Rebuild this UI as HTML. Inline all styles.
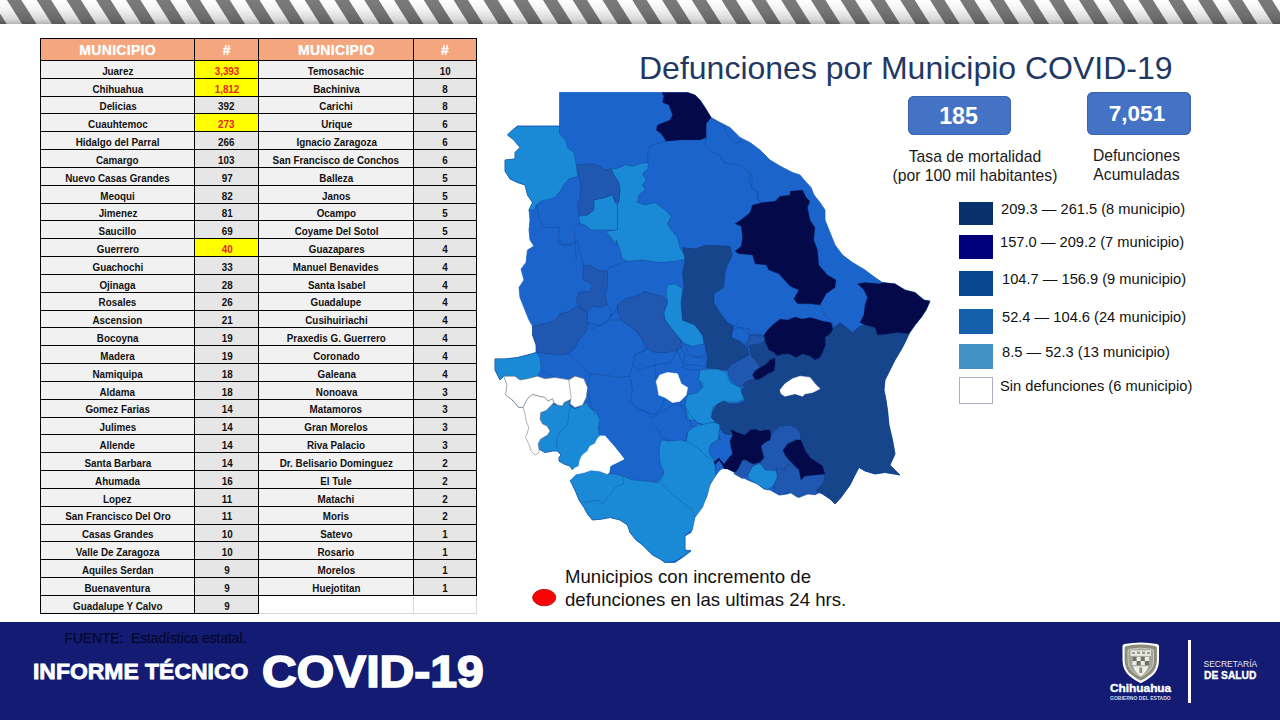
<!DOCTYPE html>
<html lang="es"><head><meta charset="utf-8"><title>Defunciones por Municipio COVID-19</title>
<style>
html,body{margin:0;padding:0;}
body{width:1280px;height:720px;overflow:hidden;background:#fff;position:relative;font-family:"Liberation Sans",sans-serif;}
.abs{position:absolute;}
#stripes{left:0;top:0;width:1280px;height:24px;}
table{position:absolute;left:40px;top:38px;border-collapse:collapse;table-layout:fixed;width:436px;}
td,th{border:1px solid #000;padding:0;text-align:center;overflow:hidden;white-space:nowrap;}
th{height:21px;background:#f4a77e;color:#fff;font:bold 14px "Liberation Sans",sans-serif;letter-spacing:0.3px;text-shadow:0 0 1px rgba(255,255,255,.6);}
td{height:16.835px;background:#e6e6e6;color:#111;font:bold 11.2px "Liberation Sans",sans-serif;line-height:16px;}
td.n{background:#f1f1f1;}
td span{display:inline-block;transform:scaleX(.88);transform-origin:50% 50%;position:relative;top:1.3px;}
td.y{background:#ffff00;color:#e8251a;}
td.e{background:#fff;border-color:#d9d9d9;border-left-color:#000;border-top-color:#000;}
td.e2{border-left-color:#d9d9d9;}
#title{left:639px;top:50px;font-size:32px;color:#1f3864;white-space:nowrap;line-height:37px;}
.box{background:#4472c4;box-shadow:inset 0 0 0 1px #3c63ad;border-radius:6px;color:#fff;font-weight:bold;text-align:center;}
.lbl{font-size:15.7px;color:#1a1a1a;text-align:center;white-space:nowrap;line-height:18.5px;}
.lg{font-size:14.67px;color:#111;white-space:nowrap;line-height:17px;left:1001px;}
.sq{left:959px;width:34px;}
#footer{left:0;top:622px;width:1280px;height:98px;background:#131c72;}
</style></head><body>
<svg id="stripes" class="abs" viewBox="0 0 1280 24" preserveAspectRatio="none">
<defs><linearGradient id="sg" x1="0" y1="0" x2="0" y2="1"><stop offset="0" stop-color="#000" stop-opacity="0"/><stop offset="0.4" stop-color="#000" stop-opacity="0.05"/><stop offset="0.8" stop-color="#000" stop-opacity="0.15"/><stop offset="1" stop-color="#000" stop-opacity="0.3"/></linearGradient></defs>
<rect width="1280" height="24" fill="#fff"/>
<g fill="#7b7b7b"><polygon points="-52.7,0 -38.3,0 -23.1,24 -37.5,24"/><polygon points="-22.9,0 -8.5,0 6.7,24 -7.7,24"/><polygon points="6.9,0 21.3,0 36.5,24 22.1,24"/><polygon points="36.7,0 51.1,0 66.3,24 51.9,24"/><polygon points="66.5,0 80.9,0 96.1,24 81.7,24"/><polygon points="96.2,0 110.6,0 125.8,24 111.4,24"/><polygon points="126.0,0 140.4,0 155.6,24 141.2,24"/><polygon points="155.8,0 170.2,0 185.4,24 171.0,24"/><polygon points="185.6,0 200.0,0 215.2,24 200.8,24"/><polygon points="215.4,0 229.8,0 245.0,24 230.6,24"/><polygon points="245.1,0 259.5,0 274.7,24 260.3,24"/><polygon points="274.9,0 289.3,0 304.5,24 290.1,24"/><polygon points="304.7,0 319.1,0 334.3,24 319.9,24"/><polygon points="334.5,0 348.9,0 364.1,24 349.7,24"/><polygon points="364.3,0 378.7,0 393.9,24 379.5,24"/><polygon points="394.0,0 408.4,0 423.6,24 409.2,24"/><polygon points="423.8,0 438.2,0 453.4,24 439.0,24"/><polygon points="453.6,0 468.0,0 483.2,24 468.8,24"/><polygon points="483.4,0 497.8,0 513.0,24 498.6,24"/><polygon points="513.2,0 527.6,0 542.8,24 528.4,24"/><polygon points="542.9,0 557.3,0 572.5,24 558.1,24"/><polygon points="572.7,0 587.1,0 602.3,24 587.9,24"/><polygon points="602.5,0 616.9,0 632.1,24 617.7,24"/><polygon points="632.3,0 646.7,0 661.9,24 647.5,24"/><polygon points="662.1,0 676.5,0 691.7,24 677.3,24"/><polygon points="691.8,0 706.2,0 721.4,24 707.0,24"/><polygon points="721.6,0 736.0,0 751.2,24 736.8,24"/><polygon points="751.4,0 765.8,0 781.0,24 766.6,24"/><polygon points="781.2,0 795.6,0 810.8,24 796.4,24"/><polygon points="811.0,0 825.4,0 840.6,24 826.2,24"/><polygon points="840.7,0 855.1,0 870.3,24 855.9,24"/><polygon points="870.5,0 884.9,0 900.1,24 885.7,24"/><polygon points="900.3,0 914.7,0 929.9,24 915.5,24"/><polygon points="930.1,0 944.5,0 959.7,24 945.3,24"/><polygon points="959.9,0 974.3,0 989.5,24 975.1,24"/><polygon points="989.6,0 1004.0,0 1019.2,24 1004.8,24"/><polygon points="1019.4,0 1033.8,0 1049.0,24 1034.6,24"/><polygon points="1049.2,0 1063.6,0 1078.8,24 1064.4,24"/><polygon points="1079.0,0 1093.4,0 1108.6,24 1094.2,24"/><polygon points="1108.8,0 1123.2,0 1138.4,24 1124.0,24"/><polygon points="1138.5,0 1152.9,0 1168.1,24 1153.7,24"/><polygon points="1168.3,0 1182.7,0 1197.9,24 1183.5,24"/><polygon points="1198.1,0 1212.5,0 1227.7,24 1213.3,24"/><polygon points="1227.9,0 1242.3,0 1257.5,24 1243.1,24"/><polygon points="1257.7,0 1272.1,0 1287.3,24 1272.9,24"/><polygon points="1287.4,0 1301.8,0 1317.0,24 1302.6,24"/></g>
<rect width="1280" height="24" fill="url(#sg)"/>
</svg>

<table>
<colgroup><col style="width:154.3px"><col style="width:64px"><col style="width:155px"><col style="width:62.7px"></colgroup>
<tr><th>MUNICIPIO</th><th>#</th><th>MUNICIPIO</th><th>#</th></tr>
<tr><td class="n"><span>Juarez</span></td><td class="y"><span>3,393</span></td><td class="n"><span>Temosachic</span></td><td><span>10</span></td></tr>
<tr><td class="n"><span>Chihuahua</span></td><td class="y"><span>1,812</span></td><td class="n"><span>Bachiniva</span></td><td><span>8</span></td></tr>
<tr><td class="n"><span>Delicias</span></td><td><span>392</span></td><td class="n"><span>Carichi</span></td><td><span>8</span></td></tr>
<tr><td class="n"><span>Cuauhtemoc</span></td><td class="y"><span>273</span></td><td class="n"><span>Urique</span></td><td><span>6</span></td></tr>
<tr><td class="n"><span>Hidalgo del Parral</span></td><td><span>266</span></td><td class="n"><span>Ignacio Zaragoza</span></td><td><span>6</span></td></tr>
<tr><td class="n"><span>Camargo</span></td><td><span>103</span></td><td class="n"><span>San Francisco de Conchos</span></td><td><span>6</span></td></tr>
<tr><td class="n"><span>Nuevo Casas Grandes</span></td><td><span>97</span></td><td class="n"><span>Balleza</span></td><td><span>5</span></td></tr>
<tr><td class="n"><span>Meoqui</span></td><td><span>82</span></td><td class="n"><span>Janos</span></td><td><span>5</span></td></tr>
<tr><td class="n"><span>Jimenez</span></td><td><span>81</span></td><td class="n"><span>Ocampo</span></td><td><span>5</span></td></tr>
<tr><td class="n"><span>Saucillo</span></td><td><span>69</span></td><td class="n"><span>Coyame Del Sotol</span></td><td><span>5</span></td></tr>
<tr><td class="n"><span>Guerrero</span></td><td class="y"><span>40</span></td><td class="n"><span>Guazapares</span></td><td><span>4</span></td></tr>
<tr><td class="n"><span>Guachochi</span></td><td><span>33</span></td><td class="n"><span>Manuel Benavides</span></td><td><span>4</span></td></tr>
<tr><td class="n"><span>Ojinaga</span></td><td><span>28</span></td><td class="n"><span>Santa Isabel</span></td><td><span>4</span></td></tr>
<tr><td class="n"><span>Rosales</span></td><td><span>26</span></td><td class="n"><span>Guadalupe</span></td><td><span>4</span></td></tr>
<tr><td class="n"><span>Ascension</span></td><td><span>21</span></td><td class="n"><span>Cusihuiriachi</span></td><td><span>4</span></td></tr>
<tr><td class="n"><span>Bocoyna</span></td><td><span>19</span></td><td class="n"><span>Praxedis G. Guerrero</span></td><td><span>4</span></td></tr>
<tr><td class="n"><span>Madera</span></td><td><span>19</span></td><td class="n"><span>Coronado</span></td><td><span>4</span></td></tr>
<tr><td class="n"><span>Namiquipa</span></td><td><span>18</span></td><td class="n"><span>Galeana</span></td><td><span>4</span></td></tr>
<tr><td class="n"><span>Aldama</span></td><td><span>18</span></td><td class="n"><span>Nonoava</span></td><td><span>3</span></td></tr>
<tr><td class="n"><span>Gomez Farias</span></td><td><span>14</span></td><td class="n"><span>Matamoros</span></td><td><span>3</span></td></tr>
<tr><td class="n"><span>Julimes</span></td><td><span>14</span></td><td class="n"><span>Gran Morelos</span></td><td><span>3</span></td></tr>
<tr><td class="n"><span>Allende</span></td><td><span>14</span></td><td class="n"><span>Riva Palacio</span></td><td><span>3</span></td></tr>
<tr><td class="n"><span>Santa Barbara</span></td><td><span>14</span></td><td class="n"><span>Dr. Belisario Dominguez</span></td><td><span>2</span></td></tr>
<tr><td class="n"><span>Ahumada</span></td><td><span>16</span></td><td class="n"><span>El Tule</span></td><td><span>2</span></td></tr>
<tr><td class="n"><span>Lopez</span></td><td><span>11</span></td><td class="n"><span>Matachi</span></td><td><span>2</span></td></tr>
<tr><td class="n"><span>San Francisco Del Oro</span></td><td><span>11</span></td><td class="n"><span>Moris</span></td><td><span>2</span></td></tr>
<tr><td class="n"><span>Casas Grandes</span></td><td><span>10</span></td><td class="n"><span>Satevo</span></td><td><span>1</span></td></tr>
<tr><td class="n"><span>Valle De Zaragoza</span></td><td><span>10</span></td><td class="n"><span>Rosario</span></td><td><span>1</span></td></tr>
<tr><td class="n"><span>Aquiles Serdan</span></td><td><span>9</span></td><td class="n"><span>Morelos</span></td><td><span>1</span></td></tr>
<tr><td class="n"><span>Buenaventura</span></td><td><span>9</span></td><td class="n"><span>Huejotitan</span></td><td><span>1</span></td></tr>
<tr><td class="n"><span>Guadalupe Y Calvo</span></td><td><span>9</span></td><td class="e"></td><td class="e e2"></td></tr>
</table>

<div id="title" class="abs">Defunciones por Municipio COVID-19</div>

<div class="abs box" style="left:908px;top:96px;width:103px;height:38.5px;font-size:23.2px;line-height:40.6px;text-indent:-2px;">185</div>
<div class="abs box" style="left:1087px;top:92px;width:104px;height:42.5px;font-size:22.5px;line-height:44.6px;text-indent:-4px;">7,051</div>
<div class="abs lbl" style="left:875px;top:148.2px;width:200px;">Tasa de mortalidad<br>(por 100 mil habitantes)</div>
<div class="abs lbl" style="left:1036.5px;top:147.2px;width:200px;">Defunciones<br>Acumuladas</div>

<div class="abs sq" style="top:202px;height:22.5px;background:#08306b;"></div>
<div class="abs sq" style="top:235px;height:23.5px;background:#00007b;"></div>
<div class="abs sq" style="top:271px;height:24.5px;background:#08468f;"></div>
<div class="abs sq" style="top:309px;height:24.7px;background:#1460ad;"></div>
<div class="abs sq" style="top:344.3px;height:24.5px;background:#4292c6;"></div>
<div class="abs sq" style="top:377px;height:25px;width:32px;background:#fff;border:1px solid #a9afc0;"></div>
<div class="abs lg" style="top:201px;">209.3 — 261.5 (8 municipio)</div>
<div class="abs lg" style="top:234px;left:1000px;">157.0 — 209.2 (7 municipio)</div>
<div class="abs lg" style="top:271px;left:1002px;">104.7 — 156.9 (9 municipio)</div>
<div class="abs lg" style="top:309px;left:1002px;">52.4 — 104.6 (24 municipio)</div>
<div class="abs lg" style="top:344px;left:1002px;">8.5 — 52.3 (13 municipio)</div>
<div class="abs lg" style="top:378px;left:1000px;">Sin defunciones (6 municipio)</div>

<svg class="abs" style="left:0;top:0;width:1280px;height:720px;pointer-events:none" viewBox="0 0 1280 720"><polygon points="559.5,92.5 687.5,92.5 695.0,95.0 700.0,100.0 705.0,107.5 711.0,117.5 720.0,122.5 730.0,127.5 740.0,137.5 750.0,142.5 760.0,150.0 770.0,160.0 780.0,166.0 792.5,172.5 800.0,175.0 805.0,181.0 811.0,187.5 814.0,195.0 820.0,202.5 825.0,210.0 825.0,220.0 830.0,232.5 835.0,245.0 842.5,255.0 852.5,262.5 865.0,270.0 875.0,277.5 882.5,282.5 895.0,284.0 905.0,290.0 915.0,292.5 924.0,300.0 930.0,301.0 926.0,310.0 921.0,317.5 915.0,325.0 909.0,334.0 905.0,342.5 901.0,350.0 895.0,360.0 890.0,370.0 885.0,380.0 884.0,390.0 886.0,400.0 887.5,410.0 889.0,425.0 892.5,440.0 895.0,454.0 890.0,465.0 900.0,475.0 885.0,472.5 875.0,474.0 865.0,471.0 859.0,467.5 855.0,475.0 850.0,485.0 841.0,497.5 835.0,504.0 830.0,499.0 822.5,494.0 816.0,491.0 807.5,494.0 799.0,497.5 795.0,491.0 787.5,494.0 779.0,495.0 770.0,490.0 764.0,489.0 757.5,484.0 750.0,481.0 742.5,477.5 735.0,472.5 725.0,467.5 720.0,470.0 714.0,477.5 709.0,486.0 706.0,497.5 701.0,507.5 695.0,515.0 692.5,525.0 691.0,532.5 685.0,536.0 685.0,550.0 691.0,551.0 682.5,557.5 675.0,562.5 665.0,562.5 660.0,559.0 652.5,555.0 647.5,550.0 642.5,545.0 636.0,540.0 630.0,532.5 627.5,525.0 620.0,520.0 610.0,517.5 602.5,519.0 592.5,520.0 587.5,514.0 584.0,507.5 579.0,500.0 576.0,492.5 572.5,485.0 570.0,480.0 572.5,470.0 570.0,466.0 564.0,464.0 559.0,461.0 559.0,457.5 561.0,455.0 557.5,451.0 552.5,451.0 545.0,452.5 539.0,449.0 538.0,444.0 540.6,439.0 547.5,435.0 550.0,431.0 547.0,426.0 542.5,424.0 540.0,419.0 540.6,412.5 546.0,410.6 552.5,404.0 553.8,402.5 552.5,398.8 548.0,401.2 545.0,397.5 538.8,396.2 532.5,394.4 527.5,398.8 523.0,407.5 518.8,407.5 512.5,400.0 506.0,395.0 507.5,385.0 504.0,376.0 500.0,380.0 495.0,370.0 495.0,359.0 505.0,359.0 517.5,357.5 527.5,355.0 536.0,352.5 536.0,345.0 532.5,335.0 532.5,326.0 529.0,320.0 524.0,307.5 520.0,297.5 519.0,287.5 524.0,280.0 521.0,269.0 526.0,262.5 527.5,250.0 534.0,246.0 530.0,240.0 529.0,230.0 530.0,220.0 529.0,210.0 532.5,202.5 527.5,195.0 525.0,185.0 517.5,182.5 510.0,179.0 505.0,171.0 505.0,160.0 515.0,159.0 515.0,152.5 520.0,147.5 514.0,140.0 507.5,135.0 512.5,130.0 517.5,126.0 559.5,126.0" fill="#1b64cb" stroke="#1b64cb" stroke-width="0.8"/>
<polygon points="517.5,126.2 559.5,126.2 559.5,133.8 566.2,141.2 567.5,147.5 573.8,152.5 576.2,165.0 577.5,176.2 568.8,178.8 563.8,185.0 560.0,191.2 555.0,197.5 541.2,201.2 536.2,205.0 533.8,210.0 528.8,210.0 532.5,202.5 527.5,195.0 525.0,185.0 517.5,182.5 510.0,178.8 505.0,171.2 505.0,160.0 515.0,158.8 515.0,152.5 520.0,147.5 513.8,140.0 507.5,135.0 512.5,130.0" fill="#1a8ad6" stroke="#0b2a66" stroke-opacity="0.55" stroke-width="0.5"/>
<polygon points="593.8,200.0 605.0,197.5 612.5,195.0 615.0,202.5 617.5,205.0 617.5,230.0 591.2,230.0 585.0,225.0 580.0,223.8 578.8,216.2 587.5,215.0 593.8,210.0" fill="#1a8ad6" stroke="#0b2a66" stroke-opacity="0.55" stroke-width="0.5"/>
<polygon points="616.2,168.8 625.0,165.0 632.5,166.2 640.0,163.8 648.0,162.5 648.0,168.8 642.5,173.8 646.2,180.0 642.5,185.0 645.0,190.0 638.8,195.0 637.5,202.5 645.0,205.0 655.0,202.5 665.0,210.0 671.2,216.2 667.5,223.8 671.2,230.0 677.5,237.5 680.0,247.5 687.5,260.0 686.2,258.8 675.0,261.2 660.0,262.5 642.5,260.0 627.5,261.2 622.5,258.8 620.0,250.0 616.2,240.0 616.2,245.0 610.0,236.2 605.0,231.2 617.5,230.0 617.5,205.0 618.8,201.2 620.0,190.0 618.8,182.5 613.8,175.0 611.2,168.8" fill="#1a8ad6" stroke="#0b2a66" stroke-opacity="0.55" stroke-width="0.5"/>
<polygon points="667.5,285.0 675.0,283.8 682.5,288.8 681.2,302.5 682.5,320.0 695.0,325.0 702.5,335.0 703.8,343.8 692.5,346.2 685.0,343.8 680.0,338.8 672.5,330.0 665.0,320.0 663.8,312.5 667.5,302.5 666.2,292.5" fill="#1a8ad6" stroke="#0b2a66" stroke-opacity="0.55" stroke-width="0.5"/>
<polygon points="495.0,358.8 505.0,358.8 517.5,357.5 527.5,355.0 536.2,352.5 540.0,357.5 541.2,370.0 537.5,376.2 527.5,378.8 520.0,380.0 515.0,376.2 503.8,376.2 500.0,380.0 495.0,370.0" fill="#1a8ad6" stroke="#0b2a66" stroke-opacity="0.55" stroke-width="0.5"/>
<polygon points="700.0,372.5 706.2,368.8 715.0,370.0 727.5,371.2 730.0,380.0 735.0,387.5 742.5,393.8 745.0,400.0 735.0,402.5 725.0,403.8 717.5,402.5 712.5,410.0 712.5,420.0 687.5,420.0 685.0,405.0 686.2,397.5 695.0,395.0 702.5,390.0 701.2,382.5 697.5,380.0" fill="#1a8ad6" stroke="#0b2a66" stroke-opacity="0.55" stroke-width="0.5"/>
<polygon points="700.0,370.0 717.5,368.8 726.2,372.5 730.0,382.5 740.0,387.5 745.0,397.5 737.5,402.5 722.5,401.2 712.5,407.5 711.2,416.2 715.0,422.5 705.0,425.0 697.5,422.5 690.0,415.0 685.0,405.0 687.5,395.0 697.5,392.5 703.8,386.2 698.8,378.8" fill="#1a8ad6" stroke="#0b2a66" stroke-opacity="0.55" stroke-width="0.5"/>
<polygon points="686.2,435.0 692.5,428.8 697.5,423.8 705.0,425.0 715.0,422.5 721.2,426.2 717.5,435.0 717.5,440.0 711.0,444.0 709.0,450.0 700.0,445.0 690.0,443.8" fill="#1a8ad6" stroke="#0b2a66" stroke-opacity="0.55" stroke-width="0.5"/>
<polygon points="747.5,475.0 752.5,466.2 757.5,463.8 767.5,465.0 776.2,467.5 777.5,477.5 773.8,485.0 767.5,490.0 760.0,486.2 755.0,482.5 750.0,480.0" fill="#1a8ad6" stroke="#0b2a66" stroke-opacity="0.55" stroke-width="0.5"/>
<polygon points="540.6,412.5 546.0,410.6 552.5,404.0 557.5,405.0 562.5,406.0 564.0,402.5 569.0,400.6 570.0,406.0 575.0,409.0 581.0,406.0 586.0,402.5 590.0,408.0 596.0,412.0 600.0,420.0 598.0,428.0 600.0,436.0 597.5,438.8 595.0,443.8 590.0,446.2 587.5,451.2 582.5,455.0 580.0,460.0 578.8,466.2 575.0,468.0 572.5,470.0 570.0,466.0 564.0,464.0 559.0,461.0 559.0,457.5 561.0,455.0 557.5,451.0 552.5,451.0 545.0,452.5 539.0,449.0 538.0,444.0 540.6,439.0 547.5,435.0 550.0,431.0 547.0,426.0 542.5,424.0 540.0,419.0" fill="#1a8ad6" stroke="#0b2a66" stroke-opacity="0.55" stroke-width="0.5"/>
<polygon points="570.0,480.0 576.0,474.0 584.0,472.5 591.0,470.0 600.0,471.0 607.5,474.0 615.0,474.0 622.5,476.0 632.5,480.0 645.0,481.0 657.5,482.5 664.0,472.5 660.0,462.5 659.0,450.0 661.0,440.0 670.0,441.2 680.0,440.0 686.2,441.2 687.5,432.5 692.5,427.5 700.0,425.0 712.5,422.5 720.0,423.8 718.8,432.5 720.0,440.0 719.0,435.0 717.5,440.0 711.0,444.0 709.0,450.0 710.0,455.0 714.0,460.0 715.0,465.0 715.0,469.0 716.0,475.0 710.0,485.0 707.5,495.0 702.5,507.5 695.0,517.5 692.5,530.0 685.0,535.0 685.0,551.0 691.0,550.0 685.0,555.0 675.0,561.0 665.0,562.5 660.0,559.0 652.5,555.0 647.5,550.0 642.5,545.0 636.0,540.0 630.0,532.5 627.5,525.0 620.0,520.0 610.0,517.5 602.5,519.0 592.5,520.0 587.5,514.0 584.0,507.5 579.0,500.0 576.0,492.5 572.5,485.0" fill="#1a8ad6" stroke="#0b2a66" stroke-opacity="0.55" stroke-width="0.5"/>
<polygon points="577.5,165.0 587.5,163.8 597.5,165.0 605.0,170.0 611.2,168.8 613.8,175.0 618.8,182.5 620.0,190.0 619.5,195.5 619.0,201.5 615.2,202.5 612.5,193.8 605.0,197.5 593.8,200.0 593.8,210.0 587.5,215.0 578.8,215.0 577.5,205.0 580.0,197.5 581.2,185.0 578.8,176.2" fill="#2057b0" stroke="#0b2a66" stroke-opacity="0.55" stroke-width="0.5"/>
<polygon points="583.8,266.2 590.0,265.0 597.5,270.0 607.5,271.2 607.5,285.0 605.0,295.0 607.5,305.0 600.0,307.5 592.5,306.2 587.5,311.2 578.8,307.5 576.2,300.0 578.8,292.5 590.0,291.2 592.5,286.2 587.5,281.2 582.5,280.0" fill="#2057b0" stroke="#0b2a66" stroke-opacity="0.55" stroke-width="0.5"/>
<polygon points="532.5,326.2 542.5,323.8 555.0,321.2 560.0,313.8 570.0,311.2 576.2,306.2 587.5,312.5 587.5,322.5 586.2,331.2 580.0,338.8 575.0,347.5 568.8,353.8 560.0,355.0 547.5,353.8 537.5,352.5 536.2,345.0 532.5,335.0" fill="#2057b0" stroke="#0b2a66" stroke-opacity="0.55" stroke-width="0.5"/>
<polygon points="617.5,305.0 625.0,298.8 635.0,296.2 645.0,291.2 652.5,293.8 662.5,296.2 667.5,302.5 663.8,312.5 665.0,320.0 672.5,330.0 680.0,338.8 682.5,346.2 677.5,350.0 667.5,352.5 655.0,352.5 647.5,348.8 642.5,338.8 635.0,330.0 627.5,325.0 621.2,320.0 617.5,312.5" fill="#2057b0" stroke="#0b2a66" stroke-opacity="0.55" stroke-width="0.5"/>
<polygon points="750.0,351.0 752.5,357.5 757.5,362.5 760.0,367.5 755.0,371.0 752.5,375.0 755.0,379.0 750.0,380.0 745.0,382.5 742.5,386.0 737.5,386.0 732.5,380.0 729.0,375.0 727.5,369.0 731.0,364.0 735.0,360.0 740.0,356.0 745.0,354.0" fill="#2057b0" stroke="#0b2a66" stroke-opacity="0.55" stroke-width="0.5"/>
<polygon points="749.0,335.0 757.5,334.0 764.0,336.0 765.0,341.0 760.0,344.0 752.5,345.0 749.0,346.0 745.0,344.0 749.0,339.0" fill="#2057b0" stroke="#0b2a66" stroke-opacity="0.55" stroke-width="0.5"/>
<polygon points="771.2,435.0 775.0,430.0 780.0,426.2 790.0,425.0 796.2,427.5 800.0,432.5 801.2,440.0 796.2,440.0 787.5,443.8 783.0,450.0 785.0,455.0 788.8,460.0 793.8,465.0 800.0,470.0 790.0,472.0 765.0,470.0 760.0,462.5 763.8,457.5 762.5,452.5 761.2,446.2 765.0,442.5 770.0,440.0" fill="#2057b0" stroke="#0b2a66" stroke-opacity="0.55" stroke-width="0.5"/>
<polygon points="776.2,467.5 785.0,470.0 787.5,463.8 795.0,467.5 798.8,470.0 801.2,480.0 805.0,476.2 825.0,473.8 823.8,482.5 820.0,492.5 815.0,495.0 805.0,493.8 797.5,497.5 790.0,492.5 780.0,495.0 773.8,491.2 773.8,485.0 777.5,477.5" fill="#2057b0" stroke="#0b2a66" stroke-opacity="0.55" stroke-width="0.5"/>
<polygon points="733.8,473.8 740.0,467.5 742.5,460.0 750.0,462.5 757.5,463.8 752.5,466.2 747.5,475.0 742.5,478.8" fill="#2057b0" stroke="#0b2a66" stroke-opacity="0.55" stroke-width="0.5"/>
<polygon points="682.5,247.5 695.0,248.8 706.2,245.0 730.0,246.2 732.5,255.0 727.5,265.0 725.0,272.5 723.8,287.5 713.8,293.8 713.8,302.5 720.0,312.5 727.5,322.5 733.8,326.2 731.2,337.5 740.0,341.2 747.5,347.5 748.8,355.0 740.0,360.0 730.0,365.0 727.5,370.0 715.0,368.8 706.2,367.5 707.5,357.5 705.0,345.0 702.5,335.0 695.0,325.0 682.5,320.0 681.2,302.5 683.8,287.5 682.5,272.5 685.0,260.0" fill="#17458c" stroke="#0b2a66" stroke-opacity="0.55" stroke-width="0.5"/>
<polygon points="742.5,386.0 745.0,382.5 750.0,380.0 755.0,379.0 757.5,380.0 762.5,377.5 767.5,374.0 774.0,371.0 775.0,365.0 775.0,358.0 777.5,356.0 782.5,354.0 790.0,354.0 796.0,357.5 802.5,354.0 810.0,356.0 815.0,360.0 820.0,357.5 822.5,352.5 825.6,345.0 825.0,337.5 830.0,334.0 833.0,329.0 834.0,327.5 840.0,322.5 845.0,326.0 852.5,332.5 860.0,326.0 865.0,325.0 875.0,327.5 877.5,335.0 890.0,334.0 897.5,332.5 909.0,334.0 905.0,342.5 901.0,350.0 895.0,360.0 890.0,370.0 885.0,380.0 884.0,390.0 886.0,400.0 887.5,410.0 889.0,425.0 892.5,440.0 895.0,454.0 890.0,465.0 900.0,475.0 885.0,472.5 875.0,474.0 865.0,471.0 859.0,467.5 855.0,475.0 850.0,485.0 841.0,497.5 835.0,504.0 830.0,499.0 822.5,494.0 816.0,491.0 823.8,482.5 825.0,474.0 822.5,470.0 817.5,462.5 810.0,457.5 805.0,450.0 801.0,440.0 800.0,432.5 796.0,427.5 790.0,425.0 780.0,426.0 775.0,430.0 771.0,435.0 770.0,430.0 765.0,430.0 760.0,431.0 755.0,429.0 750.0,430.0 745.0,435.0 737.5,432.5 732.5,430.0 731.0,435.0 725.0,434.0 721.0,430.0 720.0,425.0 715.0,421.0 711.0,417.5 714.0,410.0 717.5,404.0 724.0,401.0 730.0,404.0 737.5,404.0 745.0,401.0 742.5,395.0 741.0,391.0 745.0,386.0" fill="#17458c" stroke="#0b2a66" stroke-opacity="0.55" stroke-width="0.5"/>
<polygon points="752.5,345.0 760.0,344.0 765.0,341.0 766.0,344.0 769.0,350.0 774.0,352.5 777.5,356.0 775.0,358.0 770.0,360.0 765.0,365.0 760.0,367.5 757.5,362.5 752.5,357.5 750.0,351.0 749.0,346.0" fill="#17458c" stroke="#0b2a66" stroke-opacity="0.55" stroke-width="0.5"/>
<polygon points="662.0,92.5 687.5,92.5 695.0,95.0 700.0,100.0 705.0,107.5 711.2,117.5 706.2,123.8 706.2,137.5 700.0,140.0 680.0,140.0 666.2,141.2 661.2,133.8 656.2,130.0 657.5,125.0 670.0,120.0 672.5,115.0 668.8,105.0 662.5,102.5 663.8,96.2" fill="#040a49" stroke="#0b2a66" stroke-opacity="0.55" stroke-width="0.5"/>
<polygon points="790.0,191.2 802.5,190.0 806.2,197.5 810.0,201.2 807.5,207.5 810.0,220.0 815.0,227.5 813.8,240.0 817.5,250.0 818.8,265.0 827.5,275.0 836.2,280.0 835.0,287.5 826.2,293.8 820.0,305.0 810.0,303.8 797.5,303.8 793.8,298.8 798.8,290.0 790.0,286.2 778.8,273.8 768.8,270.0 766.2,265.0 755.0,263.8 752.5,255.0 738.8,253.8 735.0,251.2 741.2,246.2 742.5,237.5 741.2,226.2 735.0,223.8 742.5,218.8 750.0,212.5 752.5,205.0 762.5,202.5 775.0,201.2 780.0,196.2 790.0,195.0" fill="#040a49" stroke="#0b2a66" stroke-opacity="0.55" stroke-width="0.5"/>
<polygon points="857.5,283.8 865.0,282.5 880.0,283.8 882.5,282.5 895.0,283.8 905.0,290.0 915.0,292.5 923.8,300.0 930.0,301.2 926.2,310.0 921.2,317.5 915.0,325.0 908.8,333.8 897.5,332.5 890.0,333.8 877.5,335.0 875.0,327.5 865.0,325.0 860.0,322.5 863.8,315.0 865.0,305.0 867.5,297.5 863.8,290.0" fill="#040a49" stroke="#0b2a66" stroke-opacity="0.55" stroke-width="0.5"/>
<polygon points="764.0,335.0 767.5,330.0 772.5,325.0 780.0,319.0 787.5,320.0 795.0,317.0 802.5,319.0 810.0,317.5 816.0,319.0 822.5,321.0 831.0,322.5 833.0,329.0 830.0,334.0 825.0,337.5 825.6,345.0 822.5,352.5 820.0,357.5 815.0,360.0 810.0,356.0 802.5,354.0 796.0,357.5 790.0,354.0 782.5,354.0 777.5,356.0 774.0,352.5 769.0,350.0 766.0,344.0 765.0,340.0" fill="#040a49" stroke="#0b2a66" stroke-opacity="0.55" stroke-width="0.5"/>
<polygon points="752.5,375.0 755.0,371.0 760.0,367.5 765.0,365.0 770.0,360.0 775.0,358.0 775.0,365.0 774.0,371.0 767.5,374.0 762.5,377.5 757.5,380.0 755.0,379.0" fill="#040a49" stroke="#0b2a66" stroke-opacity="0.55" stroke-width="0.5"/>
<polygon points="731.0,430.0 732.5,430.0 737.5,432.5 745.0,435.0 750.0,430.0 755.0,429.0 760.0,431.0 765.0,430.0 770.0,430.0 771.0,435.0 770.0,440.0 765.0,442.5 761.0,446.0 762.5,452.5 764.0,457.5 760.0,462.5 752.5,464.0 746.0,460.0 742.5,460.0 740.0,465.0 737.5,470.0 735.0,472.5 727.5,469.0 724.0,469.0 722.5,465.0 719.0,460.0 715.0,465.0 714.0,462.0 719.0,458.0 724.0,464.0 729.0,457.5 732.5,454.0 731.0,447.5 730.0,441.0 732.5,435.0" fill="#040a49" stroke="#0b2a66" stroke-opacity="0.55" stroke-width="0.5"/>
<polygon points="783.0,450.0 787.5,444.0 796.0,440.0 801.0,440.0 805.0,450.0 810.0,457.5 817.5,462.5 822.5,466.0 825.0,474.0 815.0,475.0 805.0,476.0 801.0,480.0 799.0,470.0 794.0,465.0 789.0,460.0 785.0,455.0" fill="#040a49" stroke="#0b2a66" stroke-opacity="0.55" stroke-width="0.5"/>
<polyline points="648.0,162.5 647.5,155.0 650.0,146.2 660.0,142.5 666.2,141.2" fill="none" stroke="#0b2a66" stroke-opacity="0.5" stroke-width="0.5"/>
<polyline points="706.2,137.5 705.0,145.0 712.5,152.5 720.0,155.0 723.8,162.5 740.0,165.0 748.8,172.5 750.0,185.0 757.5,192.5 757.5,200.0 762.5,203.8" fill="none" stroke="#0b2a66" stroke-opacity="0.5" stroke-width="0.5"/>
<polyline points="711.2,117.5 713.8,120.0 723.8,125.0 726.2,133.8 735.0,142.5 741.2,142.5 740.0,138.0" fill="none" stroke="#0b2a66" stroke-opacity="0.5" stroke-width="0.5"/>
<polyline points="536.2,205.0 540.0,220.0 545.0,227.5 558.8,227.5 558.8,245.0 575.0,242.5 573.8,227.5 580.0,223.8" fill="none" stroke="#0b2a66" stroke-opacity="0.5" stroke-width="0.5"/>
<polyline points="575.0,242.5 576.2,260.0" fill="none" stroke="#0b2a66" stroke-opacity="0.5" stroke-width="0.5"/>
<polyline points="750.0,170.0 752.5,180.0 751.2,187.5 757.5,192.5 758.8,201.2 762.5,202.5" fill="none" stroke="#0b2a66" stroke-opacity="0.5" stroke-width="0.5"/>
<polyline points="820.0,305.0 825.0,315.0 832.5,322.5 833.8,327.5" fill="none" stroke="#0b2a66" stroke-opacity="0.5" stroke-width="0.5"/>
<polyline points="733.8,325.0 742.5,328.8 750.0,335.0 763.8,336.2" fill="none" stroke="#0b2a66" stroke-opacity="0.5" stroke-width="0.5"/>
<polyline points="560.0,240.0 562.5,245.0 572.5,245.0 577.5,240.0" fill="none" stroke="#0b2a66" stroke-opacity="0.5" stroke-width="0.5"/>
<polyline points="577.5,240.0 578.8,250.0 582.5,260.0 583.8,266.2" fill="none" stroke="#0b2a66" stroke-opacity="0.5" stroke-width="0.5"/>
<polyline points="607.5,271.2 610.0,267.5 620.0,263.8 627.5,261.2" fill="none" stroke="#0b2a66" stroke-opacity="0.5" stroke-width="0.5"/>
<polyline points="607.5,305.0 612.5,312.5 607.5,320.0 600.0,325.0 592.5,328.8 587.5,322.5" fill="none" stroke="#0b2a66" stroke-opacity="0.5" stroke-width="0.5"/>
<polyline points="617.5,305.0 615.0,312.5 610.0,317.5 612.5,312.5" fill="none" stroke="#0b2a66" stroke-opacity="0.5" stroke-width="0.5"/>
<polyline points="587.5,322.5 600.0,326.2 610.0,320.0 621.2,320.0" fill="none" stroke="#0b2a66" stroke-opacity="0.5" stroke-width="0.5"/>
<polyline points="635.0,330.0 642.5,338.8 645.0,350.0 635.0,355.0 632.5,365.0 630.0,376.2 617.5,377.5 605.0,375.0 590.0,373.8 585.0,370.0 575.0,360.0 568.8,353.8" fill="none" stroke="#0b2a66" stroke-opacity="0.5" stroke-width="0.5"/>
<polyline points="635.0,355.0 647.5,348.8" fill="none" stroke="#0b2a66" stroke-opacity="0.5" stroke-width="0.5"/>
<polyline points="632.5,365.0 640.0,370.0 655.0,365.0 670.0,362.5 677.5,350.0" fill="none" stroke="#0b2a66" stroke-opacity="0.5" stroke-width="0.5"/>
<polyline points="677.5,350.0 680.0,357.5 685.0,365.0 697.5,365.0 706.2,367.5" fill="none" stroke="#0b2a66" stroke-opacity="0.5" stroke-width="0.5"/>
<polyline points="685.0,343.8 687.5,352.5 697.5,357.5 707.5,357.5" fill="none" stroke="#0b2a66" stroke-opacity="0.5" stroke-width="0.5"/>
<polyline points="590.0,373.8 587.5,390.0 590.0,402.5 595.0,415.0" fill="none" stroke="#0b2a66" stroke-opacity="0.5" stroke-width="0.5"/>
<polyline points="630.0,376.2 632.5,390.0 630.0,402.5 640.0,410.0 655.0,415.0 662.5,405.0 665.0,397.5" fill="none" stroke="#0b2a66" stroke-opacity="0.5" stroke-width="0.5"/>
<polyline points="680.0,401.2 683.8,412.5 687.5,420.0" fill="none" stroke="#0b2a66" stroke-opacity="0.5" stroke-width="0.5"/>
<polyline points="655.0,365.0 656.2,381.2" fill="none" stroke="#0b2a66" stroke-opacity="0.5" stroke-width="0.5"/>
<polyline points="731.2,337.5 730.0,330.0 740.0,327.5 748.8,328.8 750.0,336.2 747.5,347.5" fill="none" stroke="#0b2a66" stroke-opacity="0.5" stroke-width="0.5"/>
<polyline points="541.2,370.0 555.0,377.5" fill="none" stroke="#0b2a66" stroke-opacity="0.5" stroke-width="0.5"/>
<polyline points="570.0,406.0 568.8,415.0 567.5,425.0 561.2,430.0 557.5,436.2 556.2,445.0 558.8,450.0" fill="none" stroke="#0b2a66" stroke-opacity="0.5" stroke-width="0.5"/>
<polyline points="583.8,502.5 597.5,500.0 602.5,503.8 607.5,497.5 615.0,487.5 623.8,483.8 622.5,476.2" fill="none" stroke="#0b2a66" stroke-opacity="0.5" stroke-width="0.5"/>
<polyline points="663.8,472.5 660.0,482.5 670.0,492.5 682.5,502.5 692.5,510.0 695.0,517.5" fill="none" stroke="#0b2a66" stroke-opacity="0.5" stroke-width="0.5"/>
<polyline points="640.0,407.5 652.5,417.5 665.0,410.0 675.0,403.8 685.0,407.5 687.5,415.0 692.5,427.5" fill="none" stroke="#0b2a66" stroke-opacity="0.5" stroke-width="0.5"/>
<polyline points="655.0,425.0 662.5,437.5 670.0,441.2" fill="none" stroke="#0b2a66" stroke-opacity="0.5" stroke-width="0.5"/>
<polyline points="687.5,432.5 686.2,441.2 697.5,447.5 705.0,455.0 715.0,462.5 716.2,468.8" fill="none" stroke="#0b2a66" stroke-opacity="0.5" stroke-width="0.5"/>
<polyline points="680.0,346.2 685.0,355.0 695.0,357.5 705.0,355.0 706.2,345.0" fill="none" stroke="#0b2a66" stroke-opacity="0.5" stroke-width="0.5"/>
<polyline points="685.0,355.0 682.5,367.5 690.0,370.0 700.0,370.0" fill="none" stroke="#0b2a66" stroke-opacity="0.5" stroke-width="0.5"/>
<polyline points="680.0,382.5 687.5,395.0" fill="none" stroke="#0b2a66" stroke-opacity="0.5" stroke-width="0.5"/>
<polygon points="656.2,381.2 660.0,375.0 667.5,372.5 677.5,373.8 681.2,383.8 687.5,387.5 686.2,395.0 680.0,401.2 672.5,402.5 665.0,397.5 658.8,395.0 657.5,387.5" fill="#fff" stroke="#fff" stroke-width="0.6"/>
<polygon points="780.0,390.0 785.0,383.8 792.5,378.8 800.0,376.2 810.0,377.5 815.0,383.8 820.0,388.8 812.5,392.5 805.0,393.8 802.5,396.2 795.0,393.8 785.0,396.2 781.2,393.8" fill="#fff" stroke="#fff" stroke-width="0.6"/>
<polygon points="600.0,436.0 605.0,436.0 615.0,447.5 624.0,459.0 610.0,466.0 609.0,472.5 607.5,474.0 600.0,471.0 591.0,470.0 584.0,472.5 576.0,474.0 570.0,480.0 565.0,478.0 572.5,470.0 575.0,468.0 578.8,466.2 580.0,460.0 582.5,455.0 587.5,451.2 590.0,446.2 595.0,443.8 597.5,438.8" fill="#fff" stroke="#fff" stroke-width="0.8"/>
<polygon points="503.8,376.2 506.9,385.0 505.6,395.0 512.5,400.0 518.8,407.5 523.0,407.5 527.5,398.8 532.5,394.4 538.8,396.2 545.0,397.5 548.0,401.2 552.5,398.8 553.8,402.5 557.5,405.0 562.5,406.0 564.0,402.5 569.4,400.0 573.0,398.0 572.0,390.0 570.0,380.0 555.0,377.5 545.0,378.8 537.5,376.2 527.5,378.8 520.0,380.0 515.0,376.2" fill="#fff" stroke="#7f7f7f" stroke-width="0.6"/>
<polygon points="568.8,380.0 575.0,376.2 583.8,378.8 587.5,387.5 586.2,397.5 582.5,405.0 575.0,407.5 570.0,403.8 571.2,397.5 570.0,390.0" fill="#fff" stroke="#7f7f7f" stroke-width="0.6"/>
<polygon points="523.0,407.5 527.5,398.8 532.5,394.4 538.8,396.2 545.0,397.5 548.0,401.2 552.5,398.8 553.8,402.5 552.5,404.0 546.0,410.6 540.6,412.5 540.0,419.0 542.5,424.0 547.0,426.0 550.0,431.0 547.5,435.0 540.6,439.0 538.0,444.0 539.0,449.0 538.8,452.5 535.0,455.0 531.2,451.2 528.8,443.8 525.6,437.5 527.5,432.5 528.8,427.5 526.2,421.2 525.0,413.8" fill="#fff" stroke="#7f7f7f" stroke-width="0.6"/></svg>

<svg class="abs" style="left:530px;top:587px;width:30px;height:22px;" viewBox="0 0 30 22"><ellipse cx="14.2" cy="10.6" rx="11.5" ry="8.2" fill="#fb0207" stroke="#b8141a" stroke-width="1"/></svg>
<div class="abs" style="left:565px;top:566px;font-size:18.6px;line-height:22.8px;color:#111;white-space:nowrap;">Municipios con incremento de<br>defunciones en las ultimas 24 hrs.</div>

<div id="footer" class="abs">
<div class="abs" style="left:64.5px;top:9px;font-size:13.75px;color:#06082e;-webkit-text-stroke:0.25px #06082e;white-space:pre;line-height:16px;">FUENTE:  Estadística estatal.</div>
<div class="abs" style="left:33.4px;top:37px;font:bold 21.6px 'Liberation Sans',sans-serif;color:#fff;white-space:nowrap;line-height:26px;-webkit-text-stroke:0.8px #fff;transform:scaleX(1.062);transform-origin:0 0;">INFORME TÉCNICO</div>
<div class="abs" style="left:262px;top:22.6px;font:bold 45px 'Liberation Sans',sans-serif;color:#fff;white-space:nowrap;line-height:54px;-webkit-text-stroke:1.7px #fff;transform:scaleX(1.068);transform-origin:0 0;">COVID-19</div>
<svg class="abs" style="left:1110px;top:14px;width:60px;height:56px;" viewBox="1110 636 60 56">
<path id="shp" d="M1122.5 646.2Q1122.5 644.400 1124.500 644Q1140.700 640.800 1157 644Q1159 644.400 1159 646.2L1159 660Q1159 670 1152 676Q1146 681 1140.750 683.3Q1135.500 681 1129.500 676Q1122.500 670 1122.500 660Z" fill="#fff"/>
<path d="M1122.5 646.2Q1122.5 644.400 1124.500 644Q1140.700 640.800 1157 644Q1159 644.400 1159 646.2L1159 660Q1159 670 1152 676Q1146 681 1140.750 683.3Q1135.500 681 1129.500 676Q1122.500 670 1122.500 660Z" fill="#8b8d7e" transform="translate(1140.75 661.5) scale(0.885) translate(-1140.75 -661.5)"/>
<path d="M1122.5 646.2Q1122.5 644.400 1124.500 644Q1140.700 640.800 1157 644Q1159 644.400 1159 646.2L1159 660Q1159 670 1152 676Q1146 681 1140.750 683.3Q1135.500 681 1129.500 676Q1122.500 670 1122.500 660Z" fill="#a3a596" stroke="#e8e8e0" stroke-width="0.9" transform="translate(1140.75 661.5) scale(0.70) translate(-1140.75 -661.5)"/>
<rect x="1130.5" y="650.3" width="20.5" height="5.6" fill="#e9e9e2"/>
<path d="M1132 652h3v2h-3zM1137 651.500h3v2.500h-3zM1142 651.500h3v2.500h-3zM1147 652h3v2h-3z" fill="#9b9d8e"/>
<path d="M1132.5 656.8h16.500v8.400h-16.500z" fill="#ecece6"/>
<path d="M1132.5 656.8h4.100v4.200h-4.100zM1140.700 656.800h4.100v4.200h-4.100zM1136.600 661h4.100v4.200h-4.100zM1144.800 661h4.200v4.200h-4.200z" fill="#6f7164"/>
<path d="M1133.200 666.200H1148.300Q1147.500 671 1140.750 676.3Q1134 671 1133.200 666.200Z" fill="#eeeee8"/>
<path d="M1139.400 667.500h2.700v5.500h-2.700z" fill="#8b8d7e"/>
</svg>
<div class="abs" style="left:1110.2px;top:60.6px;font:bold 10.3px 'Liberation Sans',sans-serif;color:#fff;line-height:12px;white-space:nowrap;-webkit-text-stroke:0.35px #fff;transform:scaleX(1.15);transform-origin:0 0;">Chihuahua</div>
<div class="abs" style="left:1110.2px;top:72.6px;font:bold 5.2px 'Liberation Sans',sans-serif;color:#d4d7ee;line-height:6px;white-space:nowrap;transform:scaleX(0.97);transform-origin:0 0;">GOBIERNO DEL ESTADO</div>
<div class="abs" style="left:1188px;top:18px;width:3px;height:62.5px;background:#fff;"></div>
<div class="abs" style="left:1203.5px;top:36.8px;font:8.5px 'Liberation Sans',sans-serif;color:#e6e8f5;line-height:10px;white-space:nowrap;">SECRETARÍA</div>
<div class="abs" style="left:1203.5px;top:48.2px;font:bold 10.4px 'Liberation Sans',sans-serif;color:#fff;line-height:12px;white-space:nowrap;-webkit-text-stroke:0.3px #fff;transform:scaleX(0.985);transform-origin:0 0;">DE SALUD</div>
</div>
</body></html>
